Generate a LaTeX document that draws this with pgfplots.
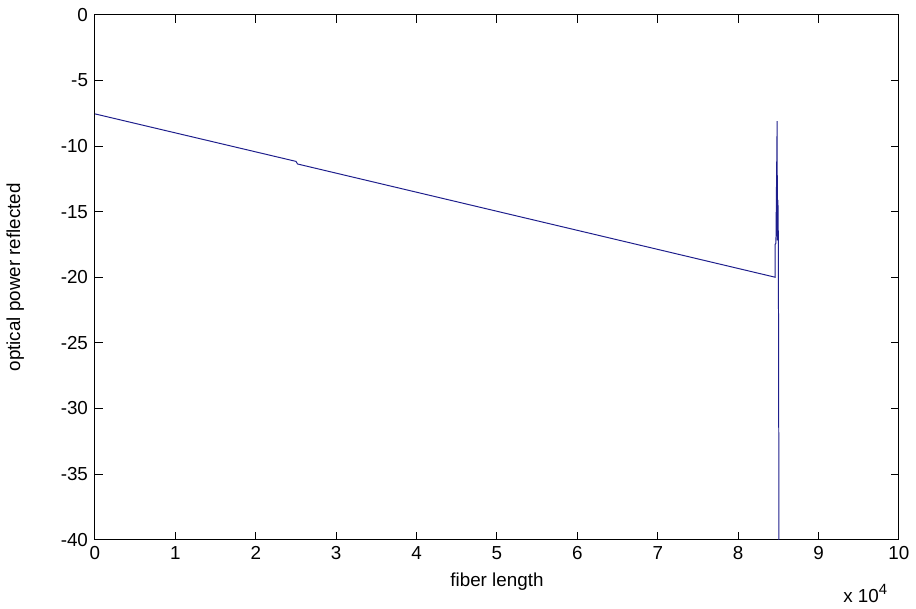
\documentclass[border=0pt]{standalone}
\usepackage{fontspec}
\setmainfont{Liberation Sans}
\usepackage{pgfplots}
\pgfplotsset{compat=1.18}
\definecolor{tracecol}{RGB}{30,30,140}

\begin{document}
\begin{tikzpicture}
\begin{axis}[
    scale only axis,
    width=406pt, height=265pt,
    xmin=0, xmax=100000,
    ymin=-40, ymax=0,
    scaled x ticks=false,
    xtick={0,10000,...,100000},
    xticklabels={0,1,2,3,4,5,6,7,8,9,10},
    ytick={-40,-35,...,0},
    tick align=inside,
    major tick length=4pt,
    axis line style={line width=0.5pt},
    every tick/.style={black, line width=0.5pt},
    /pgf/number format/assume math mode=true,
    tick label style={font=\fontsize{9.5}{11}\selectfont},
    label style={font=\fontsize{9.5}{11}\selectfont},
    xlabel={fiber length},
    ylabel={optical power reflected},
    xlabel style={at={(axis description cs:0.5,-0.081)}, anchor=center},
    ylabel style={at={(axis description cs:-0.099,0.5)}, anchor=center},
    clip=true,
]
\addplot[tracecol, line width=0.5pt] coordinates {
    (0,-7.55) (25000,-11.17) (25200,-11.37)
    (84600,-20.0) (84600,-17.5) (84700,-17.4)
    (84850,-8.1) (84880,-17.2) (84950,-14.1)
    (85000,-17.2) (85080,-40.5)
};
\end{axis}
\node[font=\fontsize{9.5}{11}\selectfont] at ([shift={(-17pt,-27pt)}]current axis.south east) {x 10\raisebox{0.8ex}{\fontsize{7.5}{9}\selectfont 4}};
\path ([shift={(-45.35pt,-33pt)}]current axis.south west) rectangle ([shift={(6.5pt,7.5pt)}]current axis.north east);
\end{tikzpicture}
\end{document}
